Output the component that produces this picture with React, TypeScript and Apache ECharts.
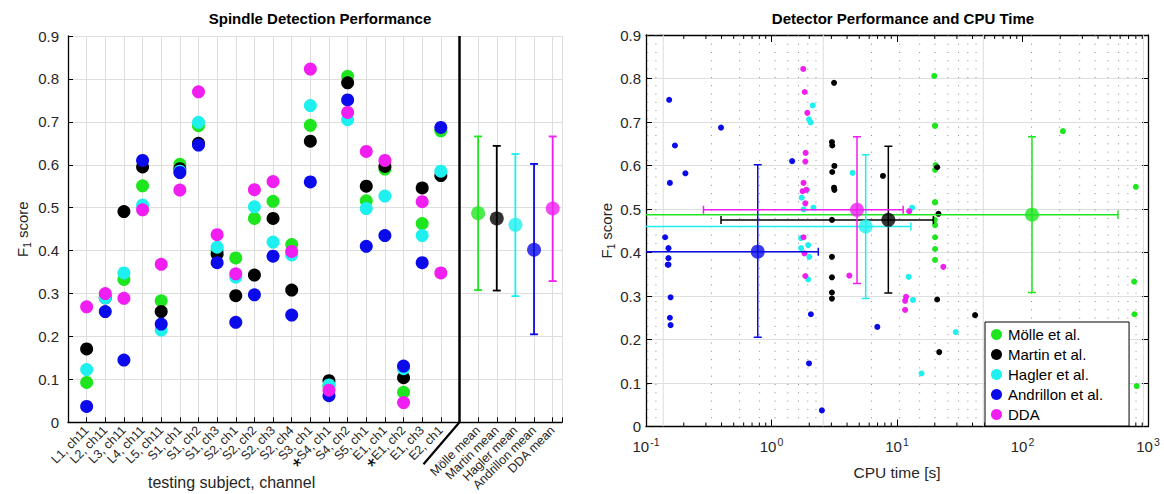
import { useEffect, useRef } from "react";
import * as echarts from "echarts";

const FONT = "'Liberation Sans', Arial, Helvetica, sans-serif";
const TXT = "#262626";

// ---------------- data ----------------
const subjects = [
  "L1, ch11", "L2, ch11", "L3, ch11", "L4, ch11", "L5, ch11",
  "S1, ch1", "S1, ch2", "S1, ch3", "S2, ch1", "S2, ch2", "S2, ch3", "S2, ch4",
  "S3, ch1", "S4, ch1", "S4, ch2", "S5, ch1", "E1, ch1", "E1, ch2", "E1, ch3", "E2, ch1",
];
const starredSubjects = ["S4, ch1", "E1, ch2"];
const meanLabels = ["Mölle mean", "Martin mean", "Hagler mean", "Andrillon mean", "DDA mean"];
const detectors = ["Mölle et al.", "Martin et al.", "Hagler et al.", "Andrillon et al.", "DDA"];
const detectorColors = ["#1ee61e", "#000000", "#1ef0f0", "#0a0aeb", "#f01ef0"];

const molleF1 = [0.093, 0.295, 0.333, 0.551, 0.283, 0.601, 0.691, 0.400, 0.383, 0.475, 0.515, 0.414, 0.692, 0.085, 0.806, 0.516, 0.590, 0.070, 0.463, 0.679];
const martinF1 = [0.171, 0.290, 0.491, 0.595, 0.258, 0.591, 0.650, 0.392, 0.295, 0.343, 0.475, 0.308, 0.655, 0.097, 0.791, 0.550, 0.596, 0.104, 0.546, 0.575];
const haglerF1 = [0.123, 0.290, 0.348, 0.506, 0.215, 0.585, 0.699, 0.408, 0.338, 0.502, 0.420, 0.390, 0.738, 0.087, 0.705, 0.498, 0.527, 0.125, 0.435, 0.585];
const andrillonF1 = [0.037, 0.258, 0.145, 0.610, 0.229, 0.582, 0.646, 0.372, 0.233, 0.297, 0.387, 0.250, 0.560, 0.062, 0.751, 0.410, 0.435, 0.131, 0.372, 0.687];
const ddaF1 = [0.269, 0.300, 0.289, 0.495, 0.368, 0.541, 0.770, 0.437, 0.346, 0.542, 0.561, 0.398, 0.823, 0.075, 0.722, 0.631, 0.610, 0.046, 0.514, 0.348];

const meanF1 = [0.487, 0.475, 0.460, 0.402, 0.498];
const meanF1Low = [0.308, 0.307, 0.294, 0.205, 0.329];
const meanF1High = [0.666, 0.644, 0.625, 0.602, 0.666];

// [CPU time (s), F1]
const molleCpu = [
  [19.8, 0.806], [20.1, 0.692], [20.1, 0.691], [20.3, 0.601], [20.1, 0.590], [20.1, 0.516],
  [20.1, 0.515], [20.0, 0.475], [20.1, 0.463], [20.1, 0.435], [20.1, 0.408], [20.1, 0.383],
  [210, 0.679], [800, 0.551], [775, 0.333], [1060, 0.283], [780, 0.258], [813, 0.093],
];
const martinCpu = [
  [3.15, 0.790], [3.03, 0.654], [3.05, 0.646], [3.17, 0.599], [3.05, 0.585], [3.15, 0.549],
  [3.17, 0.544], [3.03, 0.475], [7.73, 0.576], [3.03, 0.390], [3.03, 0.343], [3.03, 0.308],
  [3.03, 0.294], [20.9, 0.596], [21.4, 0.489], [20.9, 0.292], [21.7, 0.171], [41.9, 0.256],
];
const haglerCpu = [
  [2.13, 0.738], [1.99, 0.706], [2.05, 0.699], [1.74, 0.526], [1.92, 0.544], [1.80, 0.499],
  [2.16, 0.503], [4.43, 0.583], [1.72, 0.433], [1.96, 0.417], [1.72, 0.410], [2.00, 0.390],
  [1.96, 0.338], [13.2, 0.503], [12.4, 0.344], [13.4, 0.291], [29.4, 0.217], [15.7, 0.122],
];
const andrillonCpu = [
  [2.52, 0.037], [2.06, 0.258], [1.99, 0.145], [1.46, 0.610], [6.97, 0.229], [0.206, 0.582],
  [0.170, 0.646], [0.151, 0.372], [0.157, 0.233], [0.157, 0.297], [0.151, 0.387], [0.155, 0.250],
  [0.155, 0.560], [0.153, 0.751], [0.151, 0.410], [0.142, 0.435], [0.149, 0.372], [0.396, 0.687],
];
const ddaCpu = [
  [1.79, 0.822], [1.84, 0.769], [1.93, 0.721], [1.87, 0.629], [1.86, 0.609], [1.80, 0.560],
  [1.77, 0.541], [1.89, 0.544], [1.86, 0.513], [1.80, 0.435], [1.83, 0.398], [1.86, 0.346],
  [4.17, 0.347], [23.4, 0.367], [11.8, 0.298], [11.6, 0.289], [11.6, 0.268], [12.5, 0.495],
];

const meanCpu = [119, 8.53, 5.63, 0.777, 4.8];
const meanCpuLow = [0.001, 0.396, 0.001, 0.001, 0.287];
const meanCpuHigh = [576, 19.5, 12.9, 2.36, 11.2];

const xLogTicks = ["-1", "0", "1", "2", "3"];

// ---------------- helpers ----------------
const leftF1 = [molleF1, martinF1, haglerF1, andrillonF1, ddaF1];
const rightCpu = [molleCpu, martinCpu, haglerCpu, andrillonCpu, ddaCpu];

function decadeMultiples(fromExp: number, toExp: number): number[] {
  const out: number[] = [];
  for (let e = fromExp; e <= toExp; e++) {
    for (let m = 2; m <= 9; m++) out.push(m * Math.pow(10, e));
  }
  return out;
}

function leftLabel(v: number): string {
  if (Math.abs(v - Math.round(v)) > 1e-6) return "";
  const k = Math.round(v);
  if (k >= 1 && k <= subjects.length) {
    const s = subjects[k - 1];
    return starredSubjects.includes(s) ? `{ast|*}${s}` : s;
  }
  if (k >= 22 && k <= 26) return meanLabels[k - 22];
  return "";
}

export default function App() {
  const ref = useRef<HTMLDivElement>(null);

  useEffect(() => {
    if (!ref.current) return;
    const chart = echarts.init(ref.current, undefined, { renderer: "svg" });

    const axisLineStyle = { color: "#000", width: 1.3 };
    const gridLine = { show: true, lineStyle: { color: "#dedede", width: 1 } };

    const tickMinor = decadeMultiples(-1, 2);
    const gridMinor = [0.8, 0.9, ...decadeMultiples(0, 2)];
    const gridMajor = [1, 10, 100, 1000];

    const series: any[] = [];

    // left: per-subject scatter
    leftF1.forEach((arr, d) => {
      series.push({
        type: "scatter",
        xAxisIndex: 0,
        yAxisIndex: 0,
        symbolSize: 13,
        itemStyle: { color: detectorColors[d], opacity: 1 },
        data: arr.map((v, i) => [i + 1, v]),
        silent: true,
        z: 3,
      });
    });

    // left: mean error bars
    series.push({
      type: "custom",
      xAxisIndex: 0,
      yAxisIndex: 0,
      silent: true,
      z: 4,
      data: meanF1.map((_, i) => [22 + i, meanF1Low[i], meanF1High[i], i]),
      renderItem: (_p: any, api: any) => {
        const x = api.value(0);
        const c = detectorColors[api.value(3)];
        const lo = api.coord([x, api.value(1)]);
        const hi = api.coord([x, api.value(2)]);
        const w = 4;
        const st = { stroke: c, lineWidth: 1.8 };
        return {
          type: "group",
          children: [
            { type: "line", shape: { x1: lo[0], y1: lo[1], x2: hi[0], y2: hi[1] }, style: st },
            { type: "line", shape: { x1: lo[0] - w, y1: lo[1], x2: lo[0] + w, y2: lo[1] }, style: st },
            { type: "line", shape: { x1: hi[0] - w, y1: hi[1], x2: hi[0] + w, y2: hi[1] }, style: st },
          ],
        };
      },
    });

    // left: mean dots + separator
    series.push({
      type: "scatter",
      xAxisIndex: 0,
      yAxisIndex: 0,
      symbolSize: 14,
      silent: true,
      z: 5,
      data: meanF1.map((v, i) => ({ value: [22 + i, v], itemStyle: { color: detectorColors[i] } })),
      markLine: {
        silent: true,
        symbol: "none",
        label: { show: false },
        lineStyle: { color: "#000", width: 2.5, type: "solid" },
        data: [{ xAxis: 21 }],
      },
    });

    // right: grid (from an offset log grid)
    series.push({
      type: "custom",
      xAxisIndex: 3,
      yAxisIndex: 1,
      silent: true,
      z: 1,
      clip: true,
      data: gridMajor.map((v) => [v, 0, 1]).concat(gridMinor.map((v) => [v, 0, 0])),
      renderItem: (_p: any, api: any) => {
        const v = api.value(0);
        const major = api.value(2) === 1;
        const a = api.coord([v, 0]);
        const b = api.coord([v, 0.9]);
        return {
          type: "line",
          shape: { x1: a[0], y1: a[1], x2: b[0], y2: b[1] },
          style: major
            ? { stroke: "#dedede", lineWidth: 1 }
            : { stroke: "#8c8c8c", lineWidth: 1, lineDash: [1, 7.3] },
        };
      },
    });

    // right: minor log ticks (bottom and top)
    series.push({
      type: "custom",
      xAxisIndex: 1,
      yAxisIndex: 1,
      silent: true,
      z: 6,
      data: tickMinor.map((v) => [v, 0]),
      renderItem: (_p: any, api: any) => {
        const v = api.value(0);
        const a = api.coord([v, 0]);
        const b = api.coord([v, 0.9]);
        const st = { stroke: "#000", lineWidth: 1 };
        return {
          type: "group",
          children: [
            { type: "line", shape: { x1: a[0], y1: a[1], x2: a[0], y2: a[1] - 4 }, style: st },
            { type: "line", shape: { x1: b[0], y1: b[1], x2: b[0], y2: b[1] + 4 }, style: st },
          ],
        };
      },
    });

    // right: per-subject scatter
    rightCpu.forEach((arr, d) => {
      series.push({
        type: "scatter",
        name: detectors[d],
        xAxisIndex: 1,
        yAxisIndex: 1,
        symbolSize: 6,
        itemStyle: { color: detectorColors[d], opacity: 1 },
        data: arr,
        silent: true,
        z: 3,
      });
    });

    // right: error bars
    series.push({
      type: "custom",
      xAxisIndex: 1,
      yAxisIndex: 1,
      silent: true,
      clip: true,
      z: 4,
      data: meanF1.map((v, i) => [meanCpu[i], v, meanF1Low[i], meanF1High[i], meanCpuLow[i], meanCpuHigh[i], i]),
      renderItem: (_p: any, api: any) => {
        const x = api.value(0);
        const y = api.value(1);
        const c = detectorColors[api.value(6)];
        const lo = api.coord([x, api.value(2)]);
        const hi = api.coord([x, api.value(3)]);
        const l = api.coord([api.value(4), y]);
        const r = api.coord([api.value(5), y]);
        const w = 4;
        const st = { stroke: c, lineWidth: 1.5 };
        return {
          type: "group",
          children: [
            { type: "line", shape: { x1: lo[0], y1: lo[1], x2: hi[0], y2: hi[1] }, style: st },
            { type: "line", shape: { x1: lo[0] - w, y1: lo[1], x2: lo[0] + w, y2: lo[1] }, style: st },
            { type: "line", shape: { x1: hi[0] - w, y1: hi[1], x2: hi[0] + w, y2: hi[1] }, style: st },
            { type: "line", shape: { x1: l[0], y1: l[1], x2: r[0], y2: r[1] }, style: st },
            { type: "line", shape: { x1: l[0], y1: l[1] - w, x2: l[0], y2: l[1] + w }, style: st },
            { type: "line", shape: { x1: r[0], y1: r[1] - w, x2: r[0], y2: r[1] + w }, style: st },
          ],
        };
      },
    });

    // right: mean dots
    series.push({
      type: "scatter",
      xAxisIndex: 1,
      yAxisIndex: 1,
      symbolSize: 14,
      silent: true,
      z: 5,
      data: meanF1.map((v, i) => ({ value: [meanCpu[i], v], itemStyle: { color: detectorColors[i] } })),
    });

    const f1Name = "{a|F}{s|1}{a| score}";
    const f1Rich = {
      a: { fontSize: 15, fontFamily: FONT, color: TXT },
      s: { fontSize: 10, fontFamily: FONT, color: TXT, padding: [9, 0, 0, 0] },
    };

    const option: any = {
      animation: false,
      backgroundColor: "#fff",
      textStyle: { fontFamily: FONT },
      title: [
        {
          text: "Spindle Detection Performance",
          left: 315,
          top: 6,
          textAlign: "center",
          textStyle: { fontFamily: FONT, fontWeight: "bold", fontSize: 15, color: "#000" },
        },
        {
          text: "Detector Performance and CPU Time",
          left: 898,
          top: 6,
          textAlign: "center",
          textStyle: { fontFamily: FONT, fontWeight: "bold", fontSize: 15, color: "#000" },
        },
      ],
      legend: {
        data: detectors.map((n) => ({ name: n, icon: "circle" })),
        orient: "vertical",
        left: 985,
        top: 322,
        itemWidth: 11,
        itemHeight: 11,
        itemGap: 5,
        padding: [5, 26, 4, 6],
        backgroundColor: "#fff",
        borderColor: "#000",
        borderWidth: 1,
        borderRadius: 0,
        selectedMode: false,
        textStyle: { fontFamily: FONT, fontSize: 15, color: "#000", padding: [0, 0, 0, 1] },
        z: 10,
      },
      grid: [
        { left: 68, top: 36, width: 494, height: 390 },
        { left: 646, top: 35, width: 502, height: 391.5 },
      ],
      xAxis: [
        {
          type: "value",
          gridIndex: 0,
          min: 0,
          max: 26.5,
          interval: 1,
          axisLine: { show: true, lineStyle: axisLineStyle },
          axisTick: { show: true, inside: true, length: 5, lineStyle: { color: "#000" } },
          splitLine: gridLine,
          axisLabel: {
            rotate: 45,
            fontSize: 12.5,
            fontFamily: FONT,
            color: TXT,
            margin: 6,
            formatter: leftLabel,
            rich: { ast: { fontSize: 22, fontFamily: FONT, color: "#000", padding: [10, 0, 0, 0] } },
          },
        },
        {
          type: "log",
          logBase: 10,
          gridIndex: 1,
          min: 0.1,
          max: 1000,
          position: "bottom",
          axisLine: { show: true, onZero: false, lineStyle: axisLineStyle },
          axisTick: { show: true, inside: true, length: 7, lineStyle: { color: "#000" } },
          splitLine: { show: false },
          axisLabel: {
            margin: 10,
            formatter: (v: number) => {
              const e = Math.round(Math.log10(v));
              const t = xLogTicks.find((s) => Number(s) === e);
              return t === undefined ? "" : `{b|10}{p|${t}}`;
            },
            rich: {
              b: { fontSize: 15, fontFamily: FONT, color: TXT },
              p: { fontSize: 10.5, fontFamily: FONT, color: TXT, padding: [0, 0, 9, 1] },
            },
          },
          name: "CPU time [s]",
          nameLocation: "middle",
          nameGap: 38,
          nameTextStyle: { fontSize: 15.5, fontFamily: FONT, color: TXT },
        },
        {
          type: "log",
          logBase: 10,
          gridIndex: 1,
          min: 0.1,
          max: 1000,
          position: "top",
          axisLine: { show: true, onZero: false, lineStyle: axisLineStyle },
          axisTick: { show: true, inside: true, length: 7, lineStyle: { color: "#000" } },
          splitLine: { show: false },
          axisLabel: { show: false },
        },
        {
          type: "log",
          logBase: 10,
          gridIndex: 1,
          min: 0.78,
          max: 1069,
          show: false,
        },
      ],
      yAxis: [
        {
          type: "value",
          gridIndex: 0,
          min: 0,
          max: 0.9,
          interval: 0.1,
          axisLine: { show: true, lineStyle: axisLineStyle },
          axisTick: { show: true, inside: true, length: 5, lineStyle: { color: "#000" } },
          splitLine: gridLine,
          axisLabel: {
            fontSize: 15,
            fontFamily: FONT,
            color: TXT,
            margin: 9,
            formatter: (v: number) => (v === 0 ? "0" : v.toFixed(1)),
          },
          name: f1Name,
          nameLocation: "middle",
          nameGap: 36,
          nameRotate: 90,
          nameTextStyle: { rich: f1Rich },
        },
        {
          type: "value",
          gridIndex: 1,
          min: 0,
          max: 0.9,
          interval: 0.1,
          position: "left",
          axisLine: { show: true, onZero: false, lineStyle: axisLineStyle },
          axisTick: { show: true, inside: true, length: 6, lineStyle: { color: "#000" } },
          splitLine: gridLine,
          axisLabel: {
            fontSize: 15,
            fontFamily: FONT,
            color: TXT,
            margin: 5,
            formatter: (v: number) => (v === 0 ? "0" : v.toFixed(1)),
          },
          name: f1Name,
          nameLocation: "middle",
          nameGap: 30,
          nameRotate: 90,
          nameTextStyle: { rich: f1Rich },
        },
        {
          type: "value",
          gridIndex: 1,
          min: 0,
          max: 0.9,
          interval: 0.1,
          position: "right",
          axisLine: { show: true, onZero: false, lineStyle: axisLineStyle },
          axisTick: { show: true, inside: true, length: 6, lineStyle: { color: "#000" } },
          splitLine: { show: false },
          axisLabel: { show: false },
        },
      ],
      series,
    };

    chart.setOption(option);

    const p = chart.convertToPixel({ xAxisIndex: 0, yAxisIndex: 0 }, [21, 0]) as number[];
    chart.setOption({
      graphic: [
        {
          type: "line",
          silent: true,
          shape: { x1: p[0], y1: p[1], x2: p[0] - 36, y2: p[1] + 42 },
          style: { stroke: "#000", lineWidth: 2.2 },
          z: 10,
        },
        {
          type: "text",
          silent: true,
          left: 148,
          top: 474,
          style: { text: "testing subject, channel", fontSize: 16, fontFamily: FONT, fill: TXT },
        },
      ],
    });

    return () => chart.dispose();
  }, []);

  return (
    <div
      ref={ref}
      style={{ position: "fixed", left: 0, top: 0, width: 1164, height: 494, background: "#fff" }}
    />
  );
}
